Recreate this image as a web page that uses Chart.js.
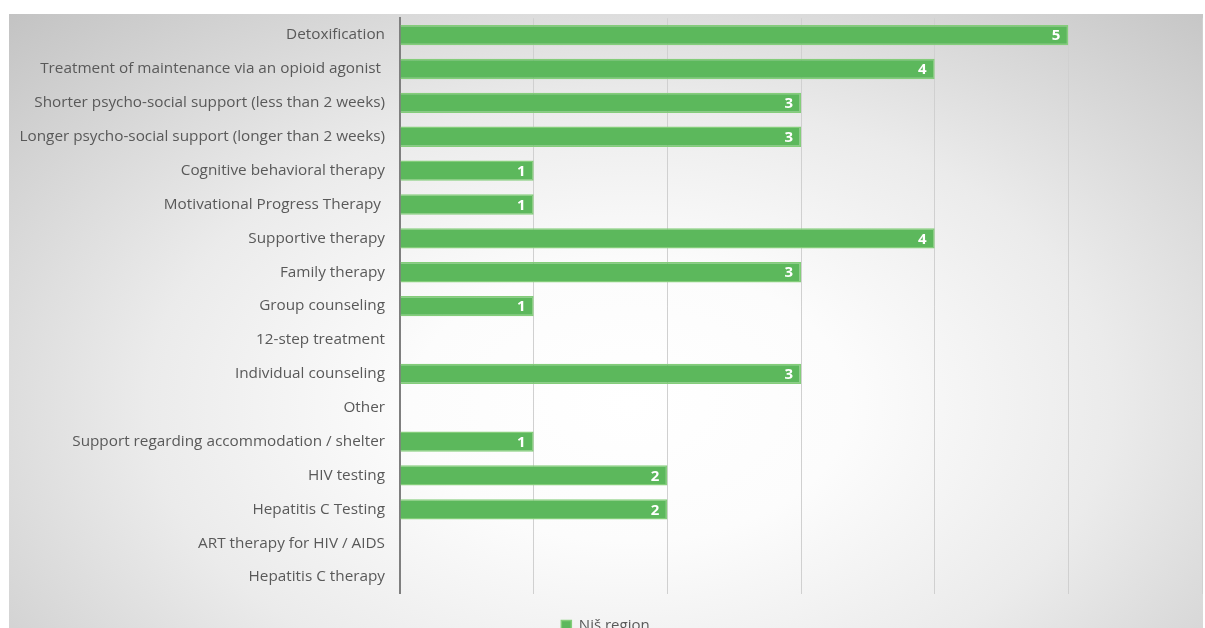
<!DOCTYPE html>
<html>
<head>
<meta charset="utf-8">
<script src="https://cdn.jsdelivr.net/npm/chart.js@4"></script>
<style>
  html, body { margin: 0; padding: 0; background: #fff; overflow: hidden; }
  body { width: 1205px; height: 628px; position: relative; }
  .panel {
    position: absolute; left: 9px; top: 14px; width: 1194px; height: 650px; overflow: hidden;
    background: radial-gradient(ellipse farthest-corner at 52% 60%, #ffffff 0%, #fcfcfc 25%, #ebebeb 55%, #c3c3c3 100%);
  }
  .panel canvas { position: absolute; left: 0; top: -20px; }
</style>
</head>
<body>
<div class="panel"><canvas id="graficoServicos" width="1194" height="649"></canvas></div>
<script>
// categorias e valores
const categorias = [
  'Detoxification',
  'Treatment of maintenance via an opioid agonist ',
  'Shorter psycho-social support (less than 2 weeks)',
  'Longer psycho-social support (longer than 2 weeks)',
  'Cognitive behavioral therapy',
  'Motivational Progress Therapy ',
  'Supportive therapy',
  'Family therapy',
  'Group counseling',
  '12-step treatment',
  'Individual counseling',
  'Other',
  'Support regarding accommodation / shelter',
  'HIV testing',
  'Hepatitis C Testing',
  'ART therapy for HIV / AIDS',
  'Hepatitis C therapy'
];
const valoresNis = [5, 4, 3, 3, 1, 1, 4, 3, 1, 0, 3, 0, 1, 2, 2, 0, 0];
const nomeSerie = 'Niš region';

// rótulos brancos dentro da ponta de cada barra
const rotulosValor = {
  id: 'rotulosValor',
  afterDatasetsDraw(chart) {
    const ctx = chart.ctx;
    const meta = chart.getDatasetMeta(0);
    ctx.save();
    ctx.font = 'bold 15px "Open Sans"';
    ctx.fillStyle = '#ffffff';
    ctx.textAlign = 'right';
    ctx.textBaseline = 'middle';
    meta.data.forEach((bar, i) => {
      const v = valoresNis[i];
      if (!v) return;
      ctx.fillText(String(v), bar.x - 8, bar.y + 1);
    });
    ctx.restore();
  }
};

const ctx = document.getElementById('graficoServicos').getContext('2d');
const grafico = new Chart(ctx, {
  type: 'bar',
  data: {
    labels: categorias,
    datasets: [{
      label: nomeSerie,
      data: valoresNis,
      backgroundColor: '#5cb85c',
      borderColor: '#84cd7a',
      borderWidth: 1.5,
      categoryPercentage: 1,
      barPercentage: 0.6
    }]
  },
  options: {
    indexAxis: 'y',
    responsive: false,
    animation: false,
    layout: { padding: { top: 3, right: 1, bottom: 0, left: 0 } },
    plugins: {
      legend: {
        position: 'bottom',
        labels: {
          boxWidth: 10,
          boxHeight: 10,
          color: '#595959',
          font: { family: 'Open Sans', size: 15 },
          padding: 24
        }
      },
      tooltip: { enabled: false }
    },
    scales: {
      x: {
        min: 0,
        max: 6,
        ticks: { display: false, stepSize: 1 },
        grid: { color: '#d0d0d0', drawTicks: false },
        border: { display: false }
      },
      y: {
        ticks: {
          color: '#595959',
          font: { family: 'Open Sans', size: 15.3 },
          padding: 15,
          autoSkip: false
        },
        grid: { display: false, drawTicks: false },
        border: { color: '#7f7f7f', width: 2 },
        afterFit(scale) { scale.width = 391; }
      }
    }
  },
  plugins: [rotulosValor]
});
</script>
</body>
</html>
